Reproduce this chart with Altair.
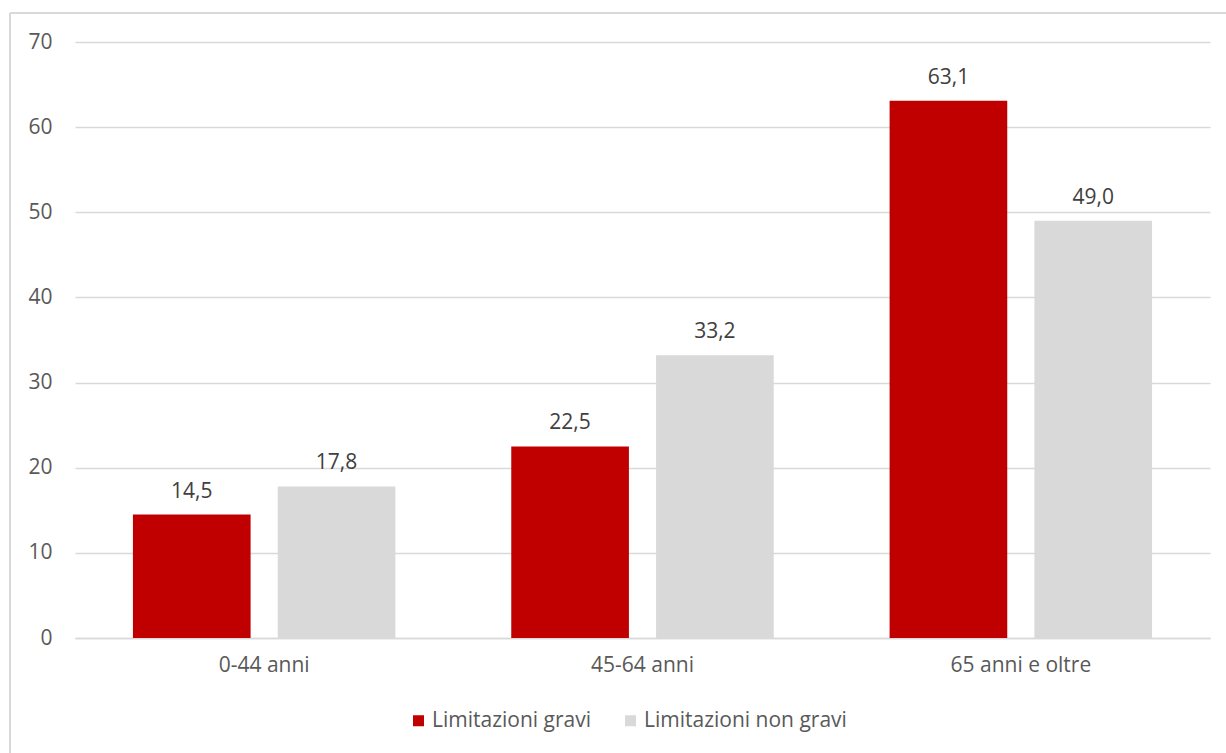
import altair as alt
import pandas as pd

# Age groups and the two series of values (percent)
categories = ["0-44 anni", "45-64 anni", "65 anni e oltre"]
series = ["Limitazioni gravi", "Limitazioni non gravi"]
gravi = [14.5, 22.5, 63.1]
non_gravi = [17.8, 33.2, 49.0]
colors = ["#c00000", "#d9d9d9"]

rows = []
for cat, g, n in zip(categories, gravi, non_gravi):
    rows.append({"cat": cat, "serie": series[0], "val": g})
    rows.append({"cat": cat, "serie": series[1], "val": n})
df = pd.DataFrame(rows)
df["label"] = df["val"].map(lambda v: f"{v:.1f}".replace(".", ","))

FONT = "Open Sans"
FS = 21
TXT = "#595959"

x_enc = alt.X(
    "cat:N",
    sort=categories,
    title=None,
    scale=alt.Scale(paddingInner=0, paddingOuter=0),
    axis=alt.Axis(
        labelAngle=0, labelFontSize=FS, labelColor=TXT, labelFont=FONT,
        labelPadding=16, ticks=False, domainColor="#d9d9d9", domainWidth=1.5,
        labelLimit=0,
    ),
)
off_enc = alt.XOffset(
    "serie:N", sort=series,
    scale=alt.Scale(paddingInner=0.1875, paddingOuter=0.4),
)
y_enc = alt.Y(
    "val:Q",
    title=None,
    scale=alt.Scale(domain=[0, 70], nice=False),
    axis=alt.Axis(
        values=[0, 10, 20, 30, 40, 50, 60, 70], labelFontSize=FS, labelColor=TXT,
        labelFont=FONT, labelPadding=23, ticks=False, domain=False,
        gridColor="#d9d9d9", gridWidth=1.5,
    ),
)

base = alt.Chart(df)

bars = base.mark_bar().encode(
    x=x_enc,
    xOffset=off_enc,
    y=y_enc,
    color=alt.Color(
        "serie:N", sort=series,
        scale=alt.Scale(domain=series, range=colors),
        legend=alt.Legend(
            title=None, orient="none", direction="horizontal",
            legendX=333, legendY=668, padding=0,
            symbolType="square", symbolSize=121, symbolStrokeWidth=0,
            labelFontSize=FS, labelColor=TXT, labelFont=FONT,
            columnPadding=28, labelOffset=3, labelLimit=0,
        ),
    ),
)

labels = base.mark_text(
    baseline="bottom", dy=-13, fontSize=FS, font=FONT, color="#404040"
).encode(
    x=alt.X("cat:N", sort=categories),
    xOffset=alt.XOffset("serie:N", sort=series),
    y=alt.Y("val:Q"),
    text="label:N",
)

# light outer frame (top and left edges)
frame_top = alt.Chart(df).mark_rule(color="#d9d9d9", strokeWidth=1.5, clip=False).encode(
    x=alt.value(-65), x2=alt.value(1200), y=alt.value(-29)
)
frame_left = alt.Chart(df).mark_rule(color="#d9d9d9", strokeWidth=1.5, clip=False).encode(
    x=alt.value(-65), y=alt.value(-29), y2=alt.value(720)
)

chart = (
    alt.layer(frame_top, frame_left, bars, labels)
    .properties(
        width=1135, height=596,
        padding={"left": 75, "top": 42, "right": 16, "bottom": 115},
        autosize=alt.AutoSizeParams(type="none"),
        background="white",
    )
    .configure_view(stroke=None)
)

chart.save("out.html", embed_options={"renderer": "svg", "actions": False})
